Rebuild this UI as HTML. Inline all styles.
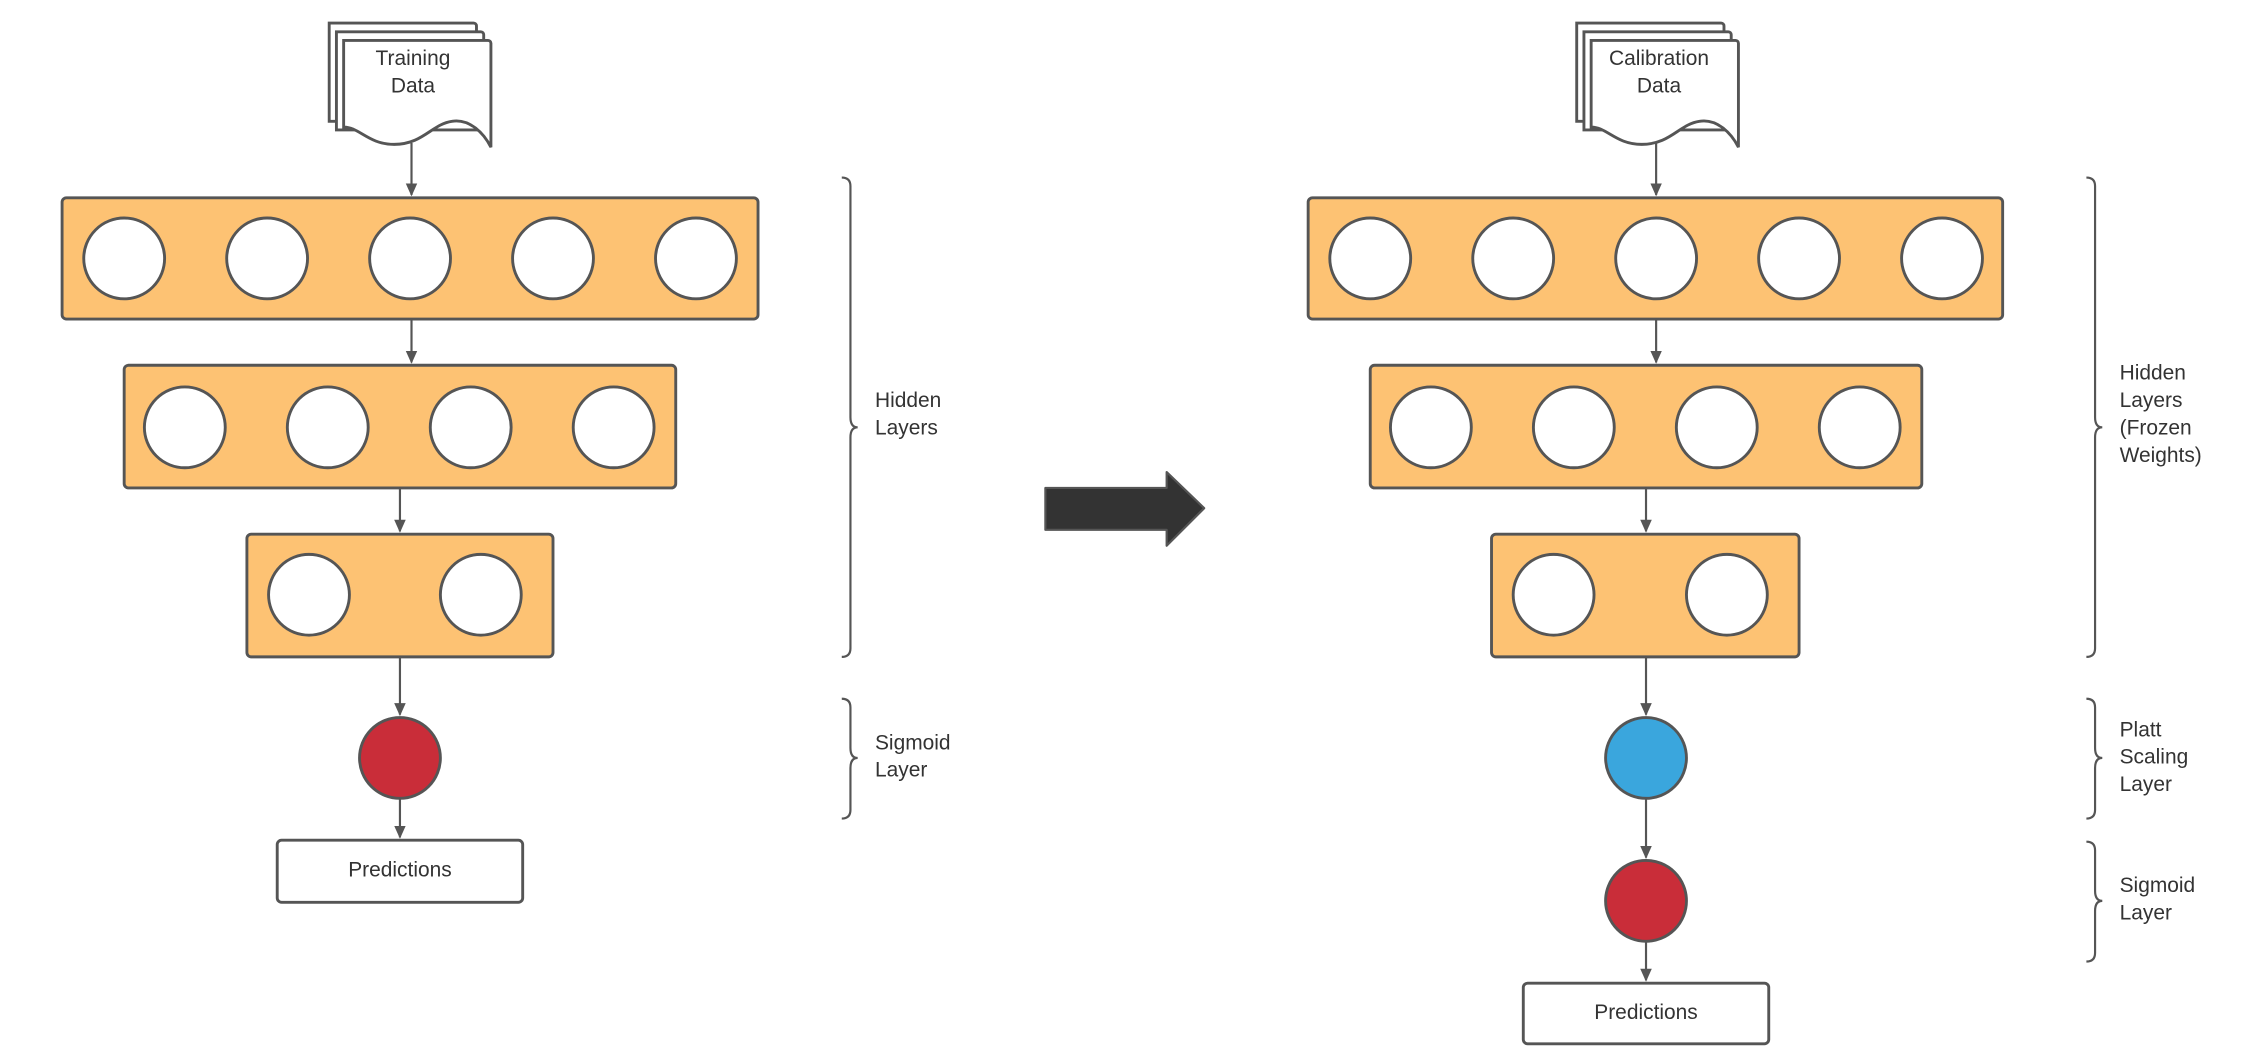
<!DOCTYPE html>
<html><head><meta charset="utf-8"><style>
html,body{margin:0;padding:0;background:#fff;width:2264px;height:1064px;overflow:hidden}
svg{display:block}
text{font-family:"Liberation Sans",sans-serif;font-size:14.5px;fill:#333}
</style></head><body>
<svg width="2264" height="1064" viewBox="0 0 1568 737" preserveAspectRatio="none" xmlns="http://www.w3.org/2000/svg">
<defs>
<marker id="ah" markerWidth="10" markerHeight="10" refX="8" refY="5" orient="auto" markerUnits="userSpaceOnUse">
<path d="M0,1 L9,5 L0,9 Z" fill="#555"/></marker>
<g id="doc">
<path d="M-57,-84 h100 a2,2 0 0 1 2,2 v66 H-57 Z" fill="#fff" stroke="#555" stroke-width="2"/>
<path d="M-52,-78 h100 a2,2 0 0 1 2,2 v66 H-52 Z" fill="#fff" stroke="#555" stroke-width="2"/>
<path d="M-47,-72 h100 a2,2 0 0 1 2,2 v72 C50,-8 40,-18 28,-16 C14,-14 8,0 -12,0 C-30,0 -36,-12 -47,-12 Z" fill="#fff" stroke="#555" stroke-width="2"/>
</g>
</defs>
<g stroke="#555" stroke-width="2" fill="none">
<rect x="43" y="137" width="482" height="84" rx="3" fill="#fdc273"/>
<rect x="86" y="253" width="382" height="85" rx="3" fill="#fdc273"/>
<rect x="171" y="370" width="212" height="85" rx="3" fill="#fdc273"/>
<g fill="#fff">
<circle cx="86" cy="179" r="28"/><circle cx="185" cy="179" r="28"/><circle cx="284" cy="179" r="28"/><circle cx="383" cy="179" r="28"/><circle cx="482" cy="179" r="28"/>
<circle cx="128" cy="296" r="28"/><circle cx="227" cy="296" r="28"/><circle cx="326" cy="296" r="28"/><circle cx="425" cy="296" r="28"/>
<circle cx="214" cy="412" r="28"/><circle cx="333" cy="412" r="28"/>
</g>
<circle cx="277" cy="525" r="28" fill="#c92d39"/>
<rect x="192" y="582" width="170" height="43" rx="3" fill="#fff"/>
<g stroke-width="1.5" marker-end="url(#ah)">
<line x1="285" y1="99" x2="285" y2="135"/>
<line x1="285" y1="221" x2="285" y2="251"/>
<line x1="277" y1="338" x2="277" y2="368"/>
<line x1="277" y1="455" x2="277" y2="495"/>
<line x1="277" y1="553" x2="277" y2="580"/>
</g>
<path d="M583,123 q6,0 6,6 v160 q0,7 5,7 q-5,0 -5,7 v146 q0,6 -6,6" stroke-width="1.5"/>
<path d="M583,484 q6,0 6,6 v28 q0,7 5,7 q-5,0 -5,7 v29 q0,6 -6,6" stroke-width="1.5"/>
<rect x="906" y="137" width="481" height="84" rx="3" fill="#fdc273"/>
<rect x="949" y="253" width="382" height="85" rx="3" fill="#fdc273"/>
<rect x="1033" y="370" width="213" height="85" rx="3" fill="#fdc273"/>
<g fill="#fff">
<circle cx="949" cy="179" r="28"/><circle cx="1048" cy="179" r="28"/><circle cx="1147" cy="179" r="28"/><circle cx="1246" cy="179" r="28"/><circle cx="1345" cy="179" r="28"/>
<circle cx="991" cy="296" r="28"/><circle cx="1090" cy="296" r="28"/><circle cx="1189" cy="296" r="28"/><circle cx="1288" cy="296" r="28"/>
<circle cx="1076" cy="412" r="28"/><circle cx="1196" cy="412" r="28"/>
</g>
<circle cx="1140" cy="525" r="28" fill="#3aa6dd"/>
<circle cx="1140" cy="624" r="28" fill="#c92d39"/>
<rect x="1055" y="681" width="170" height="42" rx="3" fill="#fff"/>
<g stroke-width="1.5" marker-end="url(#ah)">
<line x1="1147" y1="99" x2="1147" y2="135"/>
<line x1="1147" y1="221" x2="1147" y2="251"/>
<line x1="1140" y1="338" x2="1140" y2="368"/>
<line x1="1140" y1="455" x2="1140" y2="495"/>
<line x1="1140" y1="553" x2="1140" y2="594"/>
<line x1="1140" y1="652" x2="1140" y2="679"/>
</g>
<path d="M1445,123 q6,0 6,6 v160 q0,7 5,7 q-5,0 -5,7 v146 q0,6 -6,6" stroke-width="1.5"/>
<path d="M1445,484 q6,0 6,6 v28 q0,7 5,7 q-5,0 -5,7 v29 q0,6 -6,6" stroke-width="1.5"/>
<path d="M1445,583 q6,0 6,6 v28 q0,7 5,7 q-5,0 -5,7 v29 q0,6 -6,6" stroke-width="1.5"/>
</g>
<use href="#doc" x="285" y="100"/>
<use href="#doc" x="1149" y="100"/>
<path d="M724,338 H808 V327 L834,352 L808,378 V367 H724 Z" fill="#333" stroke="#555" stroke-width="1.5" stroke-linejoin="round"/>
<g text-anchor="middle">
<text x="286" y="45">Training</text><text x="286" y="64">Data</text>
<text x="1149" y="45">Calibration</text><text x="1149" y="64">Data</text>
<text x="277" y="607">Predictions</text>
<text x="1140" y="706">Predictions</text>
</g>
<text x="606" y="282">Hidden</text><text x="606" y="301">Layers</text>
<text x="606" y="519">Sigmoid</text><text x="606" y="538">Layer</text>
<text x="1468" y="263">Hidden</text><text x="1468" y="282">Layers</text><text x="1468" y="301">(Frozen</text><text x="1468" y="320">Weights)</text>
<text x="1468" y="510">Platt</text><text x="1468" y="529">Scaling</text><text x="1468" y="548">Layer</text>
<text x="1468" y="618">Sigmoid</text><text x="1468" y="637">Layer</text>
</svg>
</body></html>
